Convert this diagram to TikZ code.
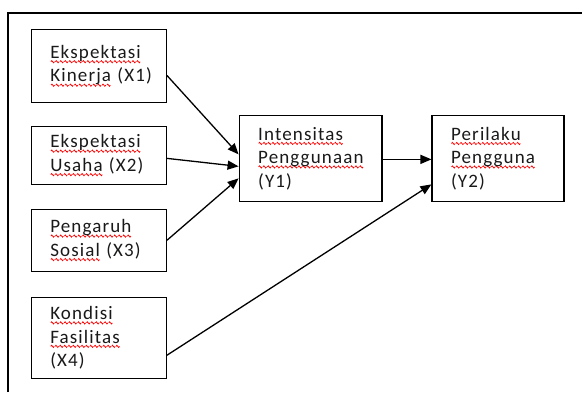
\documentclass[tikz,border=0pt]{standalone}
\usepackage{fontspec}
\setmainfont{Carlito}[LetterSpace=6]
\usepackage{xcolor}
\usetikzlibrary{arrows.meta,calc}
\newsavebox\wavebox
\newcommand\spellw[1]{\leavevmode\setbox0\hbox{#1}\rlap{\raisebox{-4.8pt}{\hbox to \wd0{\xleaders\copy\wavebox\hfil}}}\box0\relax}
\begin{document}
\begin{tikzpicture}[x=1pt,y=-1pt,
  box/.style={draw=black, line width=1.3pt, inner xsep=19pt, inner ysep=0pt, align=left,
    font=\fontsize{19}{23.5}\selectfont, text=black!90},
  arr/.style={black, line width=1.3pt, -{Triangle[length=11pt,width=9pt]}}]
\global\sbox\wavebox{\begin{pgfpicture}\pgfsetlinewidth{0.75pt}\pgfsetstrokecolor{red}%
  \pgfpathmoveto{\pgfpoint{0pt}{0pt}}\pgfpathsine{\pgfpoint{0.9pt}{1.1pt}}%
  \pgfpathcosine{\pgfpoint{0.9pt}{-1.1pt}}\pgfpathsine{\pgfpoint{0.9pt}{-1.1pt}}%
  \pgfpathcosine{\pgfpoint{0.9pt}{1.1pt}}\pgfusepath{stroke}\end{pgfpicture}}
\pgfsetstrokecolor{black}\pgfsetfillcolor{black}
\useasboundingbox (0,0) rectangle (582,391);
\coordinate (fa) at (7.5,391);
\coordinate (fb) at (7.5,11.5);
\coordinate (fc) at (582,11.5);
\draw[black, line width=2pt] (fa) -- (fb) -- (fc);
\node[box, text width=97pt, minimum height=73pt] (X1) at (98.5,64.5) {\spellw{Ekspektasi}\\\mbox{\spellw{Kinerja} (X1)}};
\node[box, text width=97pt, minimum height=58pt] (X2) at (98.5,154) {\spellw{Ekspektasi}\\\mbox{\spellw{Usaha} (X2)}};
\node[box, text width=97pt, minimum height=62pt] (X3) at (98.5,239) {\spellw{Pengaruh}\\\mbox{\spellw{Sosial} (X3)}};
\node[box, text width=97pt, minimum height=81pt] (X4) at (98.5,336.5) {\spellw{Kondisi}\\\spellw{Fasilitas}\\(X4)};
\node[box, text width=105pt, minimum height=86pt] (Y1) at (310.5,157) {\spellw{Intensitas}\\\spellw{Penggunaan}\\(Y1)};
\node[box, text width=94pt, minimum height=86pt] (Y2) at (498,157) {\spellw{Perilaku}\\\spellw{Pengguna}\\(Y2)};
\draw[arr] ($(X1.east)+(0,9.5)$) -- ($(Y1.west)+(0,-4)$);
\draw[arr] ($(X2.east)+(0,3)$) -- ($(Y1.west)+(0,8)$);
\draw[arr] (X3.east) -- ($(Y1.west)+(0,20)$);
\draw[arr] ($(Y1.east)+(0,1)$) -- ($(Y2.west)+(0,1)$);
\draw[arr] ($(X4.east)+(0,17.5)$) -- ($(Y2.west)+(0,26)$);
\end{tikzpicture}
\end{document}
